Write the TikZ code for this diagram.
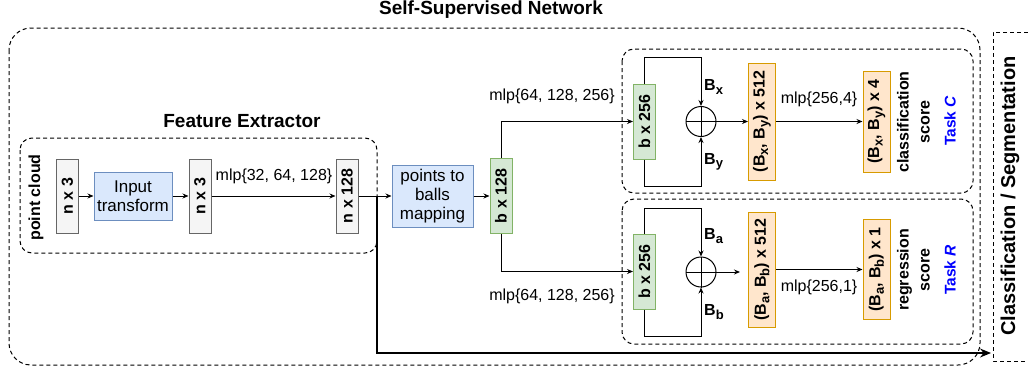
\documentclass[tikz,border=0pt]{standalone}
\usepackage{fontspec}
\setmainfont{Liberation Sans}
\usetikzlibrary{arrows.meta,calc}
\definecolor{grayfill}{HTML}{F5F5F5}
\definecolor{grayline}{HTML}{666666}
\definecolor{bluefill}{HTML}{DAE8FC}
\definecolor{blueline}{HTML}{6C8EBF}
\definecolor{greenfill}{HTML}{D5E8D4}
\definecolor{greenline}{HTML}{82B366}
\definecolor{orangefill}{HTML}{FFE6CC}
\definecolor{orangeline}{HTML}{D79B00}
\definecolor{taskblue}{HTML}{0000FF}
\newcommand\mysub[1]{\raisebox{-3.5pt}{\fontsize{13}{13}\selectfont #1}}
\begin{document}
\begin{tikzpicture}[x=1pt,y=-1pt,
  vbox/.style={draw, line width=1pt, rotate=90, inner sep=0pt, font=\fontsize{16}{19}\selectfont\bfseries},
  graybox/.style={vbox, fill=grayfill, draw=grayline, minimum width=74pt, minimum height=22pt},
  greenbox/.style={vbox, fill=greenfill, draw=greenline, minimum width=75pt, minimum height=22pt},
  orangebox/.style={vbox, fill=orangefill, draw=orangeline, minimum height=27pt},
  bluebox/.style={draw=blueline, fill=bluefill, line width=1pt, align=center, inner sep=0pt, font=\fontsize{17}{19}\selectfont},
  lbl/.style={font=\fontsize{16}{19}\selectfont, inner sep=0pt},
  blbl/.style={font=\fontsize{16}{19}\selectfont\bfseries, inner sep=0pt},
  vlbl/.style={blbl, rotate=90, align=center},
  arr/.style={-{Stealth[length=6pt,width=5pt]}, line width=0.9pt},
  bigarr/.style={-{Stealth[length=11pt,width=9pt]}, line width=1.3pt},
  dbox/.style={dash pattern=on 4pt off 3pt, line width=1pt},
  plus/.style={circle, draw, line width=1pt, minimum size=30pt, inner sep=0pt},
  tasklbl/.style={rotate=90, text=taskblue, inner sep=0pt, font=\fontsize{15.5}{18}\selectfont\bfseries},
]
\useasboundingbox (0,0) rectangle (1028,372);
% titles and outer frames
\node[font=\fontsize{19}{22}\selectfont\bfseries] (title) at (491,10) {Self-Supervised Network};
\draw[dbox, rounded corners=22pt] (9,28) rectangle (980,365);
\node[font=\fontsize{19}{22}\selectfont\bfseries] (fetitle) at (242,121) {Feature Extractor};
\draw[dbox, rounded corners=12pt] (20,138) rectangle (377,253);
% feature extractor
\node[vlbl] (pc) at (36,197.5) {point cloud};
\node[graybox] (g1) at (67.5,196) {n x 3};
\node[bluebox, minimum width=78pt, minimum height=48pt] (inp) at (133,196) {Input\\transform};
\node[graybox] (g2) at (200,196) {n x 3};
\node[graybox] (g3) at (347,196) {n x 128};
\node[lbl] (mlp1) at (274,176) {mlp\{32, 64, 128\}};
\node[bluebox, minimum width=81pt, minimum height=62pt] (ptb) at (432.5,196) {points to\\balls\\mapping};
\node[greenbox] (b128) at (501,196) {b x 128};
\draw[arr] (g1.south) -- (inp.west);
\draw[arr] (inp.east) -- (g2.north);
\draw[arr] (g2.south) -- (g3.north);
\draw[arr] (g3.south) -- (ptb.west);
\draw[arr] (ptb.east) -- (b128.north);
% skip connection
\coordinate (br) at (377,196);
\coordinate (clsin) at (991,353);
\draw[bigarr] (br) |- (clsin);
% Task C
\draw[dbox, rounded corners=12pt] (622,49) rectangle (973,193);
\node[greenbox] (bC) at (644.5,121.5) {b x 256};
\draw[arr] (b128.east) |- (bC.north);
\node[lbl] (mlpC) at (552,96) {mlp\{64, 128, 256\}};
\node[plus] (plC) at (701,121.5) {};
\draw[line width=1pt] (plC.north) -- (plC.south) (plC.west) -- (plC.east);
\coordinate (tC) at (701,57);
\coordinate (uC) at (701,186);
\draw[arr] (bC.east) |- (tC) -- (plC.north);
\draw[arr] (bC.west) |- (uC) -- (plC.south);
\node[blbl, anchor=west] (Bx) at (704,87) {B\mysub{x}};
\node[blbl, anchor=west] (By) at (704,162) {B\mysub{y}};
\node[orangebox, minimum width=117pt] (oC1) at (762,121.5) {(B\mysub{x}, B\mysub{y}) x 512};
\draw[arr] (plC.east) -- (oC1.north);
\node[orangebox, minimum width=101pt] (oC2) at (876.5,121.5) {(B\mysub{x}, B\mysub{y}) x 4};
\draw[arr] (oC1.south) -- (oC2.north);
\node[lbl] (mlpC2) at (819,99) {mlp\{256,4\}};
\node[vlbl, font=\fontsize{16}{21}\selectfont\bfseries] (cls) at (913.5,122) {classification\\score};
\node[tasklbl] (tc) at (950,121) {Task \textit{C}};
% Task R
\draw[dbox, rounded corners=12pt] (622,199) rectangle (973,344);
\node[greenbox] (bR) at (644.5,271.5) {b x 256};
\draw[arr] (b128.west) |- (bR.north);
\node[lbl] (mlpR) at (552,296) {mlp\{64, 128, 256\}};
\node[plus] (plR) at (701,272) {};
\draw[line width=1pt] (plR.north) -- (plR.south) (plR.west) -- (plR.east);
\coordinate (tR) at (701,208);
\coordinate (uR) at (701,336);
\draw[arr] (bR.east) |- (tR) -- (plR.north);
\draw[arr] (bR.west) |- (uR) -- (plR.south);
\node[blbl, anchor=west] (Ba) at (704,236) {B\mysub{a}};
\node[blbl, anchor=west] (Bb) at (704,312) {B\mysub{b}};
\node[orangebox, minimum width=115pt] (oR1) at (762,269.5) {(B\mysub{a}, B\mysub{b}) x 512};
\coordinate (rEnd) at (740,272);
\draw[arr] (plR.east) -- (rEnd);
\node[orangebox, minimum width=100pt] (oR2) at (876.5,269.5) {(B\mysub{a}, B\mysub{b}) x 1};
\draw[arr] (oR1.south) -- (oR2.north);
\node[lbl] (mlpR2) at (819,287) {mlp\{256,1\}};
\node[vlbl, font=\fontsize{16}{21}\selectfont\bfseries] (reg) at (913.5,270) {regression\\score};
\node[tasklbl] (tr) at (950,270) {Task \textit{R}};
% Classification / Segmentation
\draw[dbox] (1035,32) -- (993,32) -- (993,361) -- (1035,361);
\node[font=\fontsize{20}{24}\selectfont\bfseries, rotate=90] (cs) at (1010,196) {Classification / Segmentation};
\end{tikzpicture}
\end{document}
